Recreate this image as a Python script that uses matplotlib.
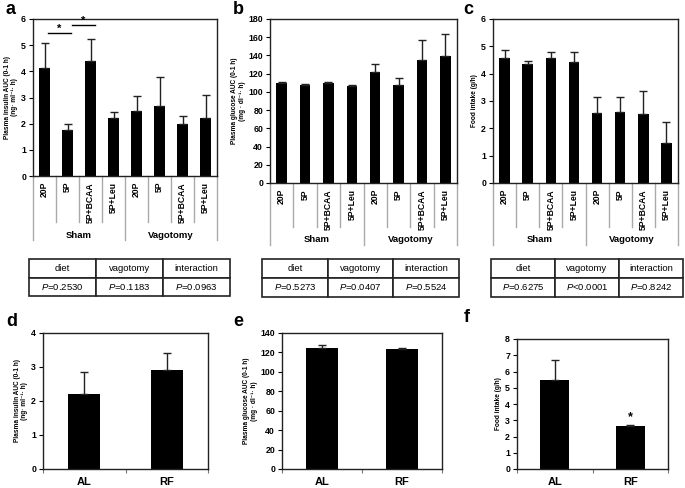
import matplotlib
matplotlib.use("Agg")
import matplotlib.pyplot as plt
import numpy as np

plt.rcParams['font.family'] = ['Liberation Sans', 'DejaVu Sans']
plt.rcParams['mathtext.fontset'] = 'custom'
plt.rcParams['mathtext.it'] = 'Liberation Sans:italic'
plt.rcParams['mathtext.rm'] = 'Liberation Sans'
plt.rcParams['mathtext.bf'] = 'Liberation Sans:bold'

# data
diets = ["20P", "5P", "5P+BCAA", "5P+Leu"]
groups = ["Sham", "Vagotomy"]

insulin = [4.13, 1.77, 4.38, 2.21, 2.48, 2.67, 1.97, 2.20]
insulin_err = [0.94, 0.23, 0.85, 0.22, 0.58, 1.12, 0.32, 0.90]
glucose = [110, 108, 110, 107, 121.5, 108, 135.5, 139]
glucose_err = [1.0, 1.0, 1.0, 1.0, 9.5, 7.5, 22, 25]
intake = [4.56, 4.37, 4.56, 4.41, 2.56, 2.61, 2.51, 1.45]
intake_err = [0.29, 0.11, 0.24, 0.39, 0.60, 0.55, 0.87, 0.78]

sig_pairs = [(0, 1), (1, 2)]

table_cols = ["diet", "vagotomy", "interaction"]
p_insulin = ["=0.2530", "=0.1183", "=0.0963"]
p_glucose = ["=0.5273", "=0.0407", "=0.5524"]
p_intake = ["=0.6275", "<0.0001", "=0.8242"]

feeding = ["AL", "RF"]
insulin_rf = [2.20, 2.92]
insulin_rf_err = [0.66, 0.49]
glucose_rf = [124.6, 124.0]
glucose_rf_err = [3.4, 1.0]
intake_rf = [5.50, 2.62]
intake_rf_err = [1.19, 0.08]

W, H = 685, 488
fig = plt.figure(figsize=(W / 100, H / 100), dpi=100)


def px_rect(x0, y0, x1, y1):
    # pixel box (top-left origin) -> figure fraction rect
    return [x0 / W, (H - y1) / H, (x1 - x0) / W, (y1 - y0) / H]


def style_axes(ax, ymax, ystep, ylabel):
    ax.set_ylim(0, ymax)
    ticks = np.arange(0, ymax + ystep / 2, ystep)
    ax.set_yticks(ticks)
    ax.set_yticklabels([f"{t:g}" for t in ticks], fontsize=6.3, fontweight='bold')
    ax.tick_params(axis='y', direction='out', length=3, width=0.8, pad=2)
    for sp in ax.spines.values():
        sp.set_linewidth(1.0)
        sp.set_color('#222222')
    ax.set_ylabel(ylabel, fontsize=4.7, fontweight='bold', labelpad=2, linespacing=1.1)


def group_panel(box, vals, errs, ymax, ystep, ylabel, sep_y, grp_y, lab_y):
    x0, y0, x1, y1 = box
    ax = fig.add_axes(px_rect(*box))
    x = np.arange(len(vals))
    ax.bar(x, vals, width=0.45, color='black', zorder=2)
    ax.errorbar(x, vals, yerr=[np.zeros(len(vals)), errs], fmt='none',
                ecolor='#222222', elinewidth=1, capsize=3, capthick=1, zorder=3)
    ax.set_xlim(-0.5, len(vals) - 0.5)
    ax.set_xticks([])
    style_axes(ax, ymax, ystep, ylabel)

    hgt = y1 - y0
    trans = ax.get_xaxis_transform()
    labels = diets * len(groups)
    for i, lab in enumerate(labels):
        ax.text(i, -6 / hgt, lab, rotation=90, ha='center', va='top',
                transform=trans, fontsize=6.2, fontweight='bold')
    n = len(diets)
    for k, b in enumerate(np.arange(len(vals) + 1) - 0.5):
        bottom = grp_y if k % n == 0 else sep_y
        ax.plot([b, b], [0, -(bottom - y1) / hgt], color='#aaaaaa', lw=1,
                transform=trans, clip_on=False)
    for g, name in enumerate(groups):
        ax.text(g * n + (n - 1) / 2, -(lab_y - y1) / hgt, name, ha='center', va='center',
                transform=trans, fontsize=6.8, fontweight='bold')
    return ax


def p_table(box, pvals):
    tax = fig.add_axes(px_rect(*box))
    tax.axis('off')
    cells = [table_cols, ['$P$' + p for p in pvals]]
    tb = tax.table(cellText=cells, cellLoc='center', bbox=[0, 0, 1, 1])
    tb.auto_set_font_size(False)
    tb.set_fontsize(6.8)
    for cell in tb.get_celld().values():
        cell.set_linewidth(1.2)
        cell.set_edgecolor('#222222')


def rf_panel(box, vals, errs, ymax, ystep, ylabel, star=False):
    ax = fig.add_axes(px_rect(*box))
    x = np.arange(len(vals))
    ax.bar(x, vals, width=0.39, color='black', zorder=2)
    ax.errorbar(x, vals, yerr=[np.zeros(len(vals)), errs], fmt='none',
                ecolor='#222222', elinewidth=1, capsize=3, capthick=1, zorder=3)
    ax.set_xlim(-0.5, len(vals) - 0.5)
    ax.set_xticks(x)
    ax.set_xticklabels(feeding, fontsize=8, fontweight='bold')
    ax.tick_params(axis='x', which='major', length=0, pad=6)
    ax.set_xticks(np.arange(len(vals) + 1) - 0.5, minor=True)
    ax.tick_params(axis='x', which='minor', direction='out', length=3, width=0.8, color='#777777')
    style_axes(ax, ymax, ystep, ylabel)
    if star:
        ax.text(1, vals[1] + errs[1] + ymax * 0.06, '*', ha='center', va='center',
                fontsize=9, fontweight='bold')
    return ax


ins_label = "Plasma insulin AUC (0-1 h)\n(ng\u00b7 ml\u207b\u00b9\u00b7 h)"
glu_label = "Plasma glucose AUC (0-1 h)\n(mg \u00b7 dl\u207b\u00b9\u00b7 h)"
food_label = "Food intake (g/h)"

ax_a = group_panel((33, 19, 217, 176), insulin, insulin_err, 6, 1, ins_label, 222, 240, 235)
levels = [5.46, 5.76]
for (i, j), lev in zip(sig_pairs, levels):
    off = 0.15 + 0.05 * i
    ax_a.plot([i + off, j + off], [lev, lev], color='black', lw=1, clip_on=False)
    ax_a.text((i + j) / 2 + off, lev + 0.17, '*', ha='center', va='center',
              fontsize=8, fontweight='bold')

group_panel((270, 19, 457, 183), glucose, glucose_err, 180, 20, glu_label, 227, 245, 240)
group_panel((493, 19, 678, 183), intake, intake_err, 6, 1, food_label, 227, 245, 240)

p_table((29, 259, 230, 296), p_insulin)
p_table((262, 259, 459, 297), p_glucose)
p_table((491, 259, 683, 297), p_intake)

rf_panel((43, 333, 208, 469), insulin_rf, insulin_rf_err, 4, 1, ins_label)
rf_panel((282, 333, 442, 469), glucose_rf, glucose_rf_err, 140, 20, glu_label)
rf_panel((517, 339, 668, 469), intake_rf, intake_rf_err, 8, 1, food_label, star=True)

for letter, (lx, ly) in zip("abcdef", [(10, 10), (238, 10), (468, 10),
                                       (12, 321), (238, 321), (467, 318)]):
    fig.text(lx / W, 1 - ly / H, letter, fontsize=13, fontweight='bold',
             ha='center', va='center')

fig.savefig("out.png", dpi=100)
